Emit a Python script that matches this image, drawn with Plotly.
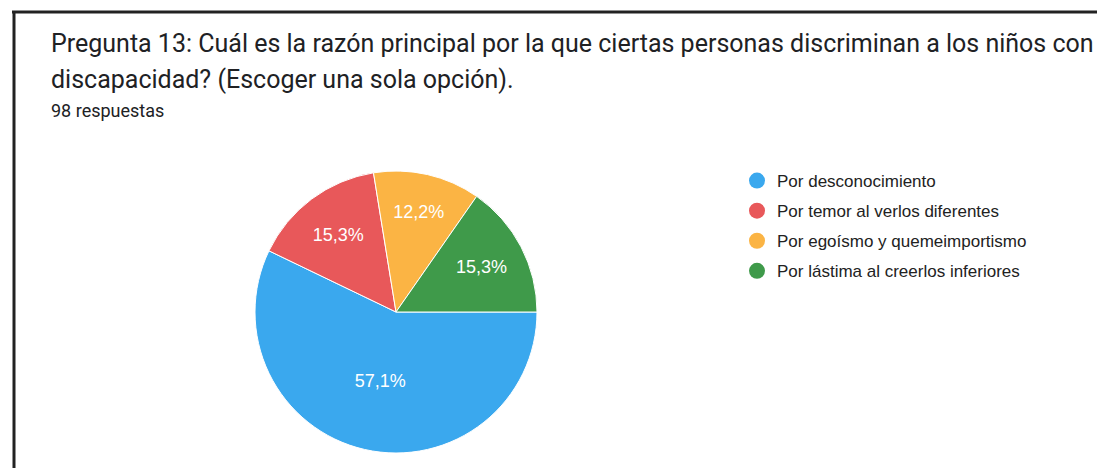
import plotly.graph_objects as go

labels = ["Por desconocimiento", "Por temor al verlos diferentes",
          "Por egoísmo y quemeimportismo", "Por lástima al creerlos inferiores"]
counts = [56, 15, 12, 15]
colors = ["#3aa8ee", "#e8585a", "#fbb444", "#3f9a4a"]

title_lines = ["Pregunta 13: Cuál es la razón principal por la que ciertas personas discriminan a los niños con",
               "discapacidad? (Escoger una sola opción)."]
subtitle = "98 respuestas"

W, H = 1105, 468
OFF = 8  # page body margin


def px(x):
    return (x - OFF) / W


def py(y):
    return 1 - (y - OFF) / H


cx, cy, r = 396, 312, 141

fig = go.Figure()
fig.add_trace(go.Pie(
    labels=labels, values=counts, sort=False, direction="clockwise", rotation=90,
    marker=dict(colors=colors, line=dict(color="white", width=1)),
    textinfo="percent", texttemplate="%{percent:.1%}", textposition="inside",
    insidetextorientation="horizontal",
    textfont=dict(family="Liberation Sans, Arial", size=18, color="white"),
    showlegend=False,
    domain=dict(x=[px(cx - r), px(cx + r)], y=[py(cy + r), py(cy - r)]),
))

for i, (lab, col) in enumerate(zip(labels, colors)):
    fig.add_trace(go.Scatter(
        x=[None], y=[None], mode="markers", name=lab, legendgroup=f"g{i}",
        marker=dict(symbol="circle", size=17, color=col),
    ))

annotations = [
    dict(text=title_lines[0], x=px(49), y=py(44), xref="paper", yref="paper",
         xanchor="left", yanchor="middle", showarrow=False,
         font=dict(family="Roboto", size=25, color="#202124")),
    dict(text=title_lines[1], x=px(49), y=py(79), xref="paper", yref="paper",
         xanchor="left", yanchor="middle", showarrow=False,
         font=dict(family="Roboto", size=25, color="#202124")),
    dict(text=subtitle, x=px(49), y=py(110), xref="paper", yref="paper",
         xanchor="left", yanchor="middle", showarrow=False,
         font=dict(family="Roboto", size=18, color="#202124")),
]

shapes = [
    dict(type="line", xref="paper", yref="paper", x0=px(12), x1=1.05, y0=py(12), y1=py(12),
         line=dict(color="#222222", width=3)),
    dict(type="line", xref="paper", yref="paper", x0=px(14), x1=px(14), y0=py(12), y1=-0.05,
         line=dict(color="#222222", width=3)),
]

fig.update_layout(
    width=W, height=H, margin=dict(l=0, r=0, t=0, b=0),
    paper_bgcolor="white", plot_bgcolor="white",
    separators=",.",
    xaxis=dict(visible=False), yaxis=dict(visible=False),
    annotations=annotations, shapes=shapes,
    legend=dict(x=px(737), y=py(163), xanchor="left", yanchor="top",
                font=dict(family="Liberation Sans, Arial", size=17, color="#222222"),
                tracegroupgap=5, bgcolor="rgba(0,0,0,0)", itemclick=False),
)

fig.write_html("out.html")
